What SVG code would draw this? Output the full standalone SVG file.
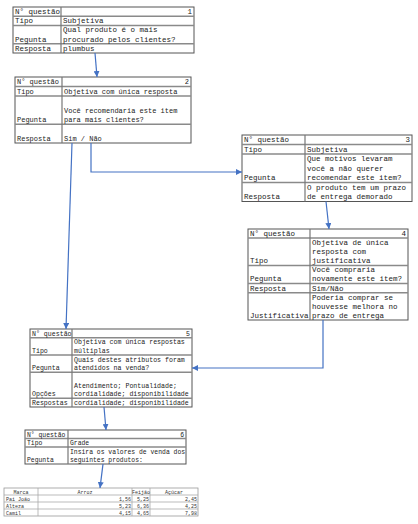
<svg xmlns="http://www.w3.org/2000/svg" width="418" height="524" viewBox="0 0 418 524">
<defs>
<marker id="arr" markerUnits="userSpaceOnUse" markerWidth="7" markerHeight="6" refX="6" refY="3" orient="auto">
<path d="M0,0 L6,3 L0,6 z" fill="#4472C4"/>
</marker>
<style>
.outer{fill:#fff;stroke:#555;stroke-width:1}
.sep{stroke:#8a8a8a;stroke-width:1.5;fill:none}
.div{stroke:#777;stroke-width:1.2;fill:none}
.t{font-family:"Liberation Mono","DejaVu Sans Mono",monospace;fill:#222}
.f75{font-size:7.5px}
.f7{font-size:7px}
.f66{font-size:6.6px}
.f64{font-size:6.4px}
.g{font-family:"Liberation Mono","DejaVu Sans Mono",monospace;font-size:5px;fill:#333}
.gl{stroke:#aaa;stroke-width:0.8;fill:none}
.e{text-anchor:end}
.m{text-anchor:middle}
.c{stroke:#4472C4;stroke-width:1.2;fill:none;marker-end:url(#arr)}
</style>
</defs>
<rect width="418" height="524" fill="#fff"/>

<g id="q1">
<rect class="outer" x="13" y="7" width="181" height="46"/>
<path class="sep" d="M13,16.2H194M13,25.4H194M13,43.8H194"/>
<path class="div" d="M61,7V53"/>
<g class="t f75">
<text x="15" y="14">N° questão</text><text class="e" x="192" y="14">1</text>
<text x="15" y="23.2">Tipo</text><text x="63" y="23.2">Subjetiva</text>
<text x="63" y="32.4">Qual produto é o mais</text>
<text x="15" y="41.6">Pegunta</text><text x="63" y="41.6">procurado pelos clientes?</text>
<text x="15" y="50.8">Resposta</text><text x="63" y="50.8">plumbus</text>
</g>
</g>

<g id="q2">
<rect class="outer" x="15" y="77" width="176" height="66"/>
<path class="sep" d="M15,86.4H191M15,95.9H191M15,124.2H191"/>
<path class="div" d="M62,77V143"/>
<g class="t f7">
<text x="17" y="84.2">N° questão</text><text class="e" x="189" y="84.2">2</text>
<text x="17" y="93.7">Tipo</text><text x="64" y="93.7">Objetiva com única resposta</text>
<text x="64" y="112.5">Você recomendaria este item</text>
<text x="17" y="122">Pegunta</text><text x="64" y="122">para mais clientes?</text>
<text x="17" y="140.8">Resposta</text><text x="64" y="140.8">Sim / Não</text>
</g>
</g>

<g id="q3">
<rect class="outer" x="242" y="135" width="170" height="66.5"/>
<path class="sep" d="M242,144.5H412M242,154H412M242,182.5H412"/>
<path class="div" d="M305,135V201.5"/>
<g class="t f75">
<text x="244" y="142.2">N° questão</text><text class="e" x="410" y="142.2">3</text>
<text x="244" y="151.7">Tipo</text><text x="307" y="151.7">Subjetiva</text>
<text x="307" y="161.2">Que motivos levaram</text>
<text x="307" y="170.7">você a não querer</text>
<text x="244" y="180.2">Pegunta</text><text x="307" y="180.2">recomendar este item?</text>
<text x="307" y="189.7">O produto tem um prazo</text>
<text x="244" y="199.2">Resposta</text><text x="307" y="199.2">de entrega demorado</text>
</g>
</g>

<g id="q4">
<rect class="outer" x="248" y="229" width="160" height="91"/>
<path class="sep" d="M248,238.1H408M248,265.4H408M248,283.6H408M248,292.7H408"/>
<path class="div" d="M310,229V320"/>
<g class="t f75">
<text x="250" y="235.9">N° questão</text><text class="e" x="406" y="235.9">4</text>
<text x="312" y="245">Objetiva de única</text>
<text x="312" y="254.1">resposta com</text>
<text x="250" y="263.2">Tipo</text><text x="312" y="263.2">justificativa</text>
<text x="312" y="272.3">Você compraria</text>
<text x="250" y="281.4">Pegunta</text><text x="312" y="281.4">novamente este item?</text>
<text x="250" y="290.5">Resposta</text><text x="312" y="290.5">Sim/Não</text>
<text x="312" y="299.6">Poderia comprar se</text>
<text x="312" y="308.7">houvesse melhora no</text>
<text x="250" y="317.8">Justificativa</text><text x="312" y="317.8">prazo de entrega</text>
</g>
</g>

<g id="q5">
<rect class="outer" x="30" y="329" width="162" height="78"/>
<path class="sep" d="M30,337.7H192M30,355H192M30,372.3H192M30,398.3H192"/>
<path class="div" d="M72,329V407"/>
<g class="t f66">
<text x="32" y="335.7">N° questão</text><text class="e" x="190" y="335.7">5</text>
<text x="74" y="344.3">Objetiva com única respostas</text>
<text x="32" y="353">Tipo</text><text x="74" y="353">múltiplas</text>
<text x="74" y="361.7">Quais destes atributos foram</text>
<text x="32" y="370.3">Pegunta</text><text x="74" y="370.3">atendidos na venda?</text>
<text x="74" y="387.7">Atendimento; Pontualidade;</text>
<text x="32" y="396.4">Opções</text><text x="74" y="396.4">cordialidade; disponibilidade</text>
<text x="32" y="405">Respostas</text><text x="74" y="405">cordialidade; disponibilidade</text>
</g>
</g>

<g id="q6">
<rect class="outer" x="25" y="430" width="161" height="34"/>
<path class="sep" d="M25,438.5H186M25,447H186"/>
<path class="div" d="M68,430V464"/>
<g class="t f64">
<text x="27" y="436.5">N° questão</text><text class="e" x="184" y="436.5">6</text>
<text x="27" y="445">Tipo</text><text x="70" y="445">Grade</text>
<text x="70" y="453.5">Insira os valores de venda dos</text>
<text x="27" y="462">Pegunta</text><text x="70" y="462">seguintes produtos:</text>
</g>
</g>

<g id="grade">
<rect x="4" y="488" width="194" height="28" fill="#fff" stroke="#999" stroke-width="0.8"/>
<path class="gl" d="M4,495H198M4,502H198M4,509H198M38,488V516M132,488V516M150,488V516"/>
<g class="g">
<text class="m" x="21" y="493.5">Marca</text>
<text class="m" x="85" y="493.5">Arroz</text>
<text class="m" x="141" y="493.5">Feijão</text>
<text class="m" x="174" y="493.5">Açúcar</text>
<text x="6" y="500.5">Pai João</text><text class="e" x="131" y="500.5">1,56</text><text class="e" x="149" y="500.5">5,25</text><text class="e" x="197" y="500.5">2,45</text>
<text x="6" y="507.5">Alteza</text><text class="e" x="131" y="507.5">5,23</text><text class="e" x="149" y="507.5">6,36</text><text class="e" x="197" y="507.5">4,25</text>
<text x="6" y="514.5">Camil</text><text class="e" x="131" y="514.5">4,15</text><text class="e" x="149" y="514.5">4,65</text><text class="e" x="197" y="514.5">7,98</text>
</g>
</g>

<g id="connectors">
<path class="c" d="M95,53L97,77"/>
<path class="c" d="M91,143V172H242"/>
<path class="c" d="M72,143L66,329"/>
<path class="c" d="M326,201.5L329,229"/>
<path class="c" d="M323,320V368H192"/>
<path class="c" d="M104,407L106,430"/>
<path class="c" d="M103,464L100,488"/>
</g>
</svg>
